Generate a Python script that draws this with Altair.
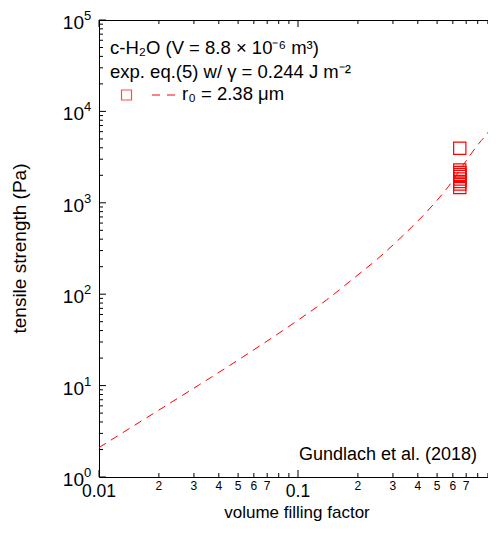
import altair as alt
import pandas as pd

# ---- data ----
line_phi = [0.01, 0.02, 0.0319, 0.0525, 0.1, 0.139, 0.188, 0.255, 0.339, 0.452, 0.569, 0.731, 0.812, 0.912, 1.0]
line_sigma = [2.1, 5.4, 10.2, 20.4, 52, 86.5, 146, 251, 444, 834, 1500, 3300, 4480, 6100, 9000]

exp_phi = [0.65, 0.65, 0.65, 0.65, 0.65, 0.65, 0.65, 0.65, 0.65]
exp_sigma = [3955, 2285, 2145, 2040, 1940, 1820, 1710, 1606, 1470]

x_major = [0.01, 0.1]
x_major_labels = ["0.01", "0.1"]
x_minor = [0.02, 0.03, 0.04, 0.05, 0.06, 0.07, 0.08, 0.09,
           0.2, 0.3, 0.4, 0.5, 0.6, 0.7, 0.8, 0.9]
x_minor_labeled = [0.02, 0.03, 0.04, 0.05, 0.06, 0.07, 0.2, 0.3, 0.4, 0.5, 0.6, 0.7]
x_minor_labels = ["2", "3", "4", "5", "6", "7", "2", "3", "4", "5", "6", "7"]

y_major = [1, 10, 100, 1000, 10000, 100000]
y_exponents = ["0", "1", "2", "3", "4", "5"]
y_minor = [m * 10 ** d for d in range(5) for m in range(2, 10)]

title_line1 = "c-H₂O (V = 8.8 × 10⁻⁶ m³)"
title_line2 = "exp. eq.(5) w/ γ = 0.244 J m⁻²"
legend_label = "r₀ = 2.38 μm"
source_label = "Gundlach et al. (2018)"
x_title = "volume filling factor"
y_title = "tensile strength (Pa)"

FONT = "Liberation Sans"
W, H = 398, 457
RED = "#ff0000"

xs = alt.Scale(type="log", domain=[0.01, 1], nice=False)
ys = alt.Scale(type="log", domain=[1, 1e5], nice=False)

line_df = pd.DataFrame({"phi": line_phi, "sigma": line_sigma})
exp_df = pd.DataFrame({"phi": exp_phi, "sigma": exp_sigma})
xmaj_df = pd.DataFrame({"v": x_major, "t": x_major_labels})
xmin_df = pd.DataFrame({"v": x_minor})
xminl_df = pd.DataFrame({"v": x_minor_labeled, "t": x_minor_labels})
ymaj_df = pd.DataFrame({"v": y_major, "e": y_exponents})
ymin_df = pd.DataFrame({"v": y_minor})
dummy = pd.DataFrame({"d": [0]})

X = lambda f: alt.X(f, type="quantitative", scale=xs, axis=None)
Y = lambda f: alt.Y(f, type="quantitative", scale=ys, axis=None)

line = alt.Chart(line_df).mark_line(
    color=RED, strokeDash=[8, 6], strokeWidth=1, clip=True, interpolate="monotone"
).encode(x=X("phi"), y=Y("sigma"))

squares = alt.Chart(exp_df).mark_point(
    shape="square", filled=False, color=RED, size=150, strokeWidth=1.2, opacity=1
).encode(x=X("phi"), y=Y("sigma"))

def xticks(df, length):
    b = alt.Chart(df).mark_rule(color="black", strokeWidth=1).encode(
        x=X("v"), y=alt.value(H), y2=alt.value(H - length))
    t = alt.Chart(df).mark_rule(color="black", strokeWidth=1).encode(
        x=X("v"), y=alt.value(0), y2=alt.value(length))
    return [b, t]

def yticks(df, length):
    l = alt.Chart(df).mark_rule(color="black", strokeWidth=1).encode(
        y=Y("v"), x=alt.value(0), x2=alt.value(length))
    r = alt.Chart(df).mark_rule(color="black", strokeWidth=1).encode(
        y=Y("v"), x=alt.value(W), x2=alt.value(W - length))
    return [l, r]

ticks = xticks(xmaj_df, 7) + xticks(xmin_df, 4) + yticks(ymaj_df, 7) + yticks(ymin_df, 4)

xmaj_lab = alt.Chart(xmaj_df).mark_text(font=FONT, fontSize=17.5, baseline="middle", align="center").encode(
    x=X("v"), y=alt.value(H + 15), text="t:N")
xmin_lab = alt.Chart(xminl_df).mark_text(font=FONT, fontSize=12, baseline="middle", align="center").encode(
    x=X("v"), y=alt.value(H + 9), text="t:N")
ymaj_lab = alt.Chart(ymaj_df).mark_text(font=FONT, fontSize=19, baseline="middle", align="right", dy=3).encode(
    y=Y("v"), x=alt.value(-15), text=alt.value("10"))
yexp_lab = alt.Chart(ymaj_df).mark_text(font=FONT, fontSize=13, baseline="middle", align="left", dy=-4).encode(
    y=Y("v"), x=alt.value(-15), text="e:N")

def label(txt, x, y, size=18.5, align="left", angle=0, baseline="middle"):
    return alt.Chart(dummy).mark_text(
        font=FONT, fontSize=size, align=align, baseline=baseline, angle=angle, text=txt, color="black"
    ).encode(x=alt.value(x), y=alt.value(y))

texts = [
    label(title_line1, 11, 28),
    label(title_line2, 11, 52),
    label(legend_label, 83, 74),
    label(source_label, 378, 435, size=18, align="right"),
    label(x_title, 198, 498, size=17, align="center", baseline="alphabetic"),
    label(y_title, -79, H / 2, size=19, align="center", angle=270),
]

leg_sq = alt.Chart(dummy).mark_point(shape="square", filled=False, color=RED, size=100, strokeWidth=1.2).encode(
    x=alt.value(27.5), y=alt.value(75))
leg_ln = alt.Chart(dummy).mark_rule(color=RED, strokeDash=[8, 7], strokeWidth=1).encode(
    x=alt.value(53), x2=alt.value(76), y=alt.value(75))

chart = alt.layer(
    line, squares, *ticks, xmaj_lab, xmin_lab, ymaj_lab, yexp_lab, *texts, leg_sq, leg_ln
).properties(
    width=W, height=H,
    padding={"left": 91, "top": 12, "right": -9, "bottom": 45},
    autosize=alt.AutoSizeParams(type="none"),
).configure_view(stroke="black", strokeWidth=1)

chart.save("out.html", embed_options={"renderer": "svg", "actions": False})
